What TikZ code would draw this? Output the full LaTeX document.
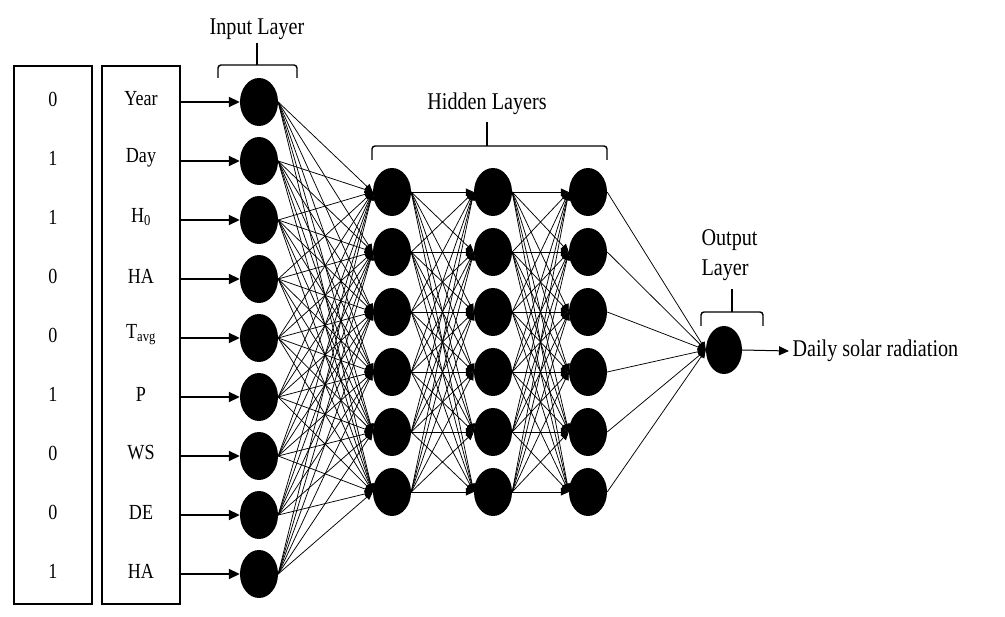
\documentclass[tikz,border=0pt]{standalone}
\usepackage{fontspec}
\setmainfont[FakeStretch=0.84]{Liberation Serif}
\usetikzlibrary{arrows.meta,shapes.geometric}
\begin{document}
\begin{tikzpicture}[x=1pt,y=-1pt,
  neuron/.style={ellipse,fill=black,draw=none,inner sep=0pt,minimum width=38pt,minimum height=48pt},
  boxnode/.style={draw,line width=1.8pt,minimum width=78pt,minimum height=538pt,inner sep=0pt},
  conn/.style={-{Triangle[length=8pt,width=7pt]},line width=0.75pt},
  outarrow/.style={-{Triangle[length=10pt,width=9pt]},line width=1pt},
  inarrow/.style={-{Triangle[length=11pt,width=10pt]},line width=1.8pt},
  brace/.style={line width=1.4pt,rounded corners=3pt},
  lbl/.style={font=\fontsize{21.5}{24}\selectfont,inner sep=0pt},
  title/.style={font=\fontsize{24}{30}\selectfont}
]
\useasboundingbox (0,0) rectangle (1005,617);
\fill[white] (0,0) rectangle (1005,617);
% boxes
\node[boxnode] (valbox) at (53,335) {};
\node[boxnode] (labbox) at (141,335) {};
% inputs
\foreach \v/\l [count=\i from 0] in {0/Year,1/Day,1/H\textsubscript{0},0/HA,0/T\textsubscript{avg},1/P,0/WS,0/DE,1/HA}{
  \node[lbl] (val\i) at (53,{99+59*\i}) {\v};
  \node[lbl] (lab\i) at (141,{99+59*\i}) {\l};
  \node[neuron] (in\i) at (259,{102+59*\i}) {};
  \draw[inarrow] (labbox.east |- in\i) -- (in\i.west);
}
% hidden
\foreach \c/\x in {1/392,2/493,3/588}{
  \foreach \r in {0,...,5}{
    \node[neuron] (h\c-\r) at (\x,{192+60*\r}) {};
  }
}
\node[neuron,minimum width=36pt] (out) at (724,350) {};
% connections
\foreach \i in {0,...,8}{
  \foreach \r in {0,...,5}{
    \draw[conn] (in\i.east) -- (h1-\r.west);
  }
}
\foreach \a in {0,...,5}{
  \foreach \b in {0,...,5}{
    \draw[conn] (h1-\a.east) -- (h2-\b.west);
    \draw[conn] (h2-\a.east) -- (h3-\b.west);
  }
  \draw[conn] (h3-\a.east) -- (out.west);
}
% output
\node[title,anchor=west] (res) at (789,351) {Daily solar radiation};
\draw[outarrow] (out.east) -- (res.west);
% titles and braces
\node[title] (tin) at (257,29) {Input Layer};
\draw[brace] (218,78) -- (218,65) -- (297,65) -- (297,78);
\draw[line width=1.4pt] (257,65) -- (257,43);
\node[title] (thid) at (487,104) {Hidden Layers};
\draw[brace] (372,160) -- (372,146) -- (607,146) -- (607,160);
\draw[line width=1.4pt] (487,146) -- (487,122);
\node[title,anchor=west,align=left] (tout) at (698,255) {Output\\Layer};
\draw[brace] (701,326) -- (701,312) -- (763,312) -- (763,326);
\draw[line width=1.4pt] (732,312) -- (732,289);
\end{tikzpicture}
\end{document}
